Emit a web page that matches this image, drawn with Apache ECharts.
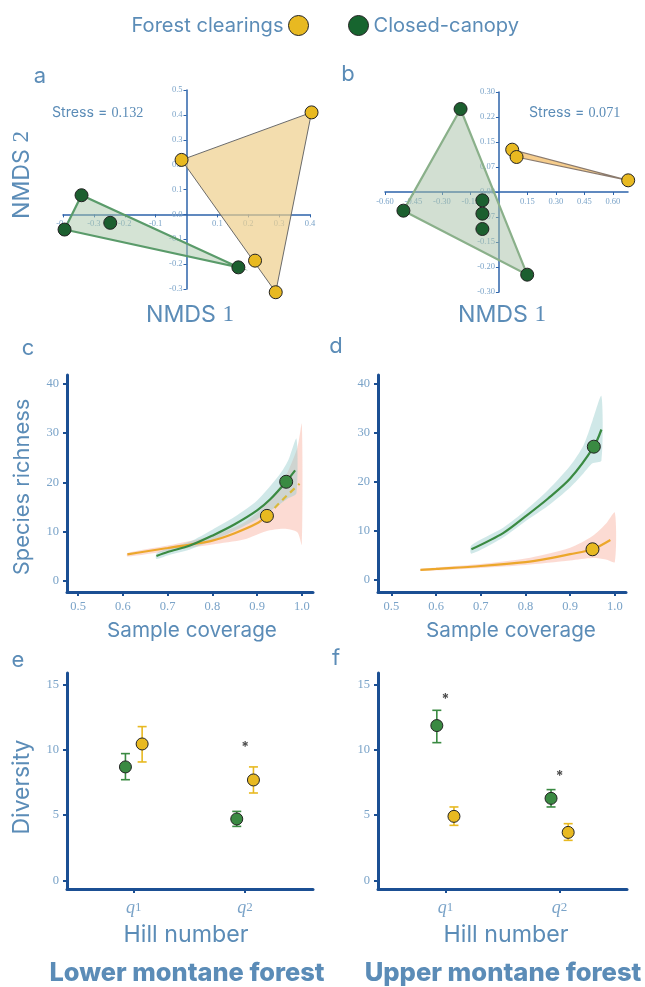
<!DOCTYPE html>
<html><head><meta charset="utf-8">
<script src="https://cdn.jsdelivr.net/npm/echarts@6/dist/echarts.min.js"></script>
<style>html,body{margin:0;padding:0;background:#fff}#c{width:645px;height:987px}</style>
</head><body><div id="c"></div>
<script>
// ---------------- DATA ----------------
// Panel a (NMDS, lower montane)
const aClearings = [[-0.016,0.219],[0.405,0.41],[0.222,-0.186],[0.289,-0.313]];
const aCanopy = [[-0.34,0.077],[-0.395,-0.061],[-0.247,-0.034],[0.168,-0.213]];
const aXTicks = [-0.4,-0.3,-0.2,-0.1,0.1,0.2,0.3,0.4];
const aYTicks = [-0.3,-0.2,-0.1,0,0.1,0.2,0.3,0.4,0.5];
const aStress = '0.132';
// Panel b (NMDS, upper montane)
const bClearings = [[0.070,0.127],[0.093,0.105],[0.681,0.035]];
const bCanopy = [[-0.202,0.249],[-0.503,-0.056],[-0.087,-0.025],[-0.087,-0.065],[-0.087,-0.111],[0.149,-0.248]];
const bXTicks = [-0.6,-0.45,-0.3,-0.15,0.15,0.3,0.45,0.6];
const bYTicks = [-0.3,-0.225,-0.15,-0.075,0,0.075,0.15,0.225,0.3];
const bYLabels = ['-0.30','-0.20','-0.15','-0.07','0.00','0.07','0.15','0.22','0.30'];
const bStress = '0.071';
// Panel c (coverage-based rarefaction, lower montane)
const cClearLine = [[0.61,5.4],[0.65,6.0],[0.7,6.7],[0.75,7.4],[0.8,8.2],[0.85,9.7],[0.9,11.7],[0.922,13.2]];
const cClearExtra = [[0.922,13.2],[0.95,15.8],[0.97,17.6],[0.995,19.7]];
const cClearBand = [[0.61,5.0,5.7],[0.7,6.1,7.2],[0.8,7.4,9.2],[0.87,8.4,11.8],[0.92,10.1,15.5],[0.96,10.6,20.5],[0.99,9.9,27.0],[1.0,7.4,31.8]];
const cClearPoint = [[0.922,13.2]];
const cCanopyLine = [[0.675,5.1],[0.7,5.9],[0.75,7.2],[0.8,9.2],[0.85,11.5],[0.9,14.3],[0.93,16.6],[0.965,20.1],[0.985,22.4]];
const cCanopyBand = [[0.675,4.5,5.6],[0.7,5.2,6.6],[0.75,6.4,8.0],[0.8,8.2,10.4],[0.85,10.2,13.0],[0.9,12.5,16.3],[0.95,15.5,21.5],[0.97,16.8,24.5],[0.988,17.8,28.8]];
const cCanopyPoint = [[0.965,20.1]];
// Panel d (coverage-based rarefaction, upper montane)
const dClearLine = [[0.565,2.1],[0.6,2.3],[0.7,2.9],[0.8,3.7],[0.85,4.4],[0.9,5.3],[0.95,6.3],[0.99,8.2]];
const dClearBand = [[0.565,1.9,2.3],[0.7,2.5,3.3],[0.8,3.1,4.4],[0.9,4.0,6.6],[0.95,4.5,9.0],[0.98,4.2,11.5],[1.0,3.7,13.8]];
const dClearPoint = [[0.95,6.3]];
const dCanopyLine = [[0.679,6.3],[0.75,9.6],[0.8,13.0],[0.85,16.6],[0.9,20.7],[0.953,27.2],[0.97,30.7]];
const dCanopyBand = [[0.679,5.4,7.1],[0.75,8.7,10.7],[0.8,12.0,14.2],[0.85,15.1,18.3],[0.9,18.9,23.3],[0.93,21.8,27.5],[0.95,23.8,32.5],[0.97,24.4,37.5]];
const dCanopyPoint = [[0.953,27.2]];
const covTicks = [0.5,0.6,0.7,0.8,0.9,1.0];
const richTicks = [0,10,20,30,40];
// Panels e/f (Hill numbers): [mean, lower, upper] per category
const hillCats = ['q1','q2'];
const eCanopy = [[8.7,7.72,9.72],[4.71,4.14,5.29]];
const eClear = [[10.46,9.08,11.79],[7.7,6.7,8.7]];
const eStars = [[2,10.15]];
const fCanopy = [[11.87,10.56,13.04],[6.29,5.63,6.96]];
const fClear = [[4.91,4.22,5.63],[3.68,3.07,4.35]];
const fStars = [[1,13.86],[2,7.98]];
const divTicks = [0,5,10,15];

// ---------------- STYLE ----------------
const SANS = 'Inter, Lato, "Noto Sans", sans-serif';
const SERIF = '"Liberation Serif", "DejaVu Serif", serif';
const TXT = '#5b8cb7', TICK = '#7aa3c8', AXIS = '#1b4f93', AXIS_T = '#2d63aa';
const YEL = '#e8b921', DKGRN = '#1c5f2f', GRN = '#3a8a42', ORG = '#eca72b';
const DODGE = 0.075;

const _ctx = document.createElement('canvas').getContext('2d');
function fit(text, target, weight){
  _ctx.font = (weight||'normal') + ' 100px ' + SANS;
  return Math.round(100*target/_ctx.measureText(text).width*10)/10;
}

function hull(pts){
  const p = pts.slice().sort((a,b)=>a[0]-b[0]||a[1]-b[1]);
  const cr=(o,a,b)=>(a[0]-o[0])*(b[1]-o[1])-(a[1]-o[1])*(b[0]-o[0]);
  const lo=[],up=[];
  for(const q of p){while(lo.length>=2&&cr(lo[lo.length-2],lo[lo.length-1],q)<=0)lo.pop();lo.push(q);}
  for(const q of p.slice().reverse()){while(up.length>=2&&cr(up[up.length-2],up[up.length-1],q)<=0)up.pop();up.push(q);}
  return lo.slice(0,-1).concat(up.slice(0,-1));
}
function polySeries(idx, pts, fill, stroke, lw, z){
  return {type:'custom', xAxisIndex:idx, yAxisIndex:idx, z:z||1, silent:true, clip:false, data:[pts[0]],
    renderItem:(params,api)=>({type:'polygon', shape:{points:pts.map(p=>api.coord(p))},
      style:{fill:fill, stroke:stroke, lineWidth:lw}})};
}
function bandSeries(idx, band, fill){
  const pts = band.map(b=>[b[0],b[2]]).concat(band.slice().reverse().map(b=>[b[0],b[1]]));
  return {type:'custom', xAxisIndex:idx, yAxisIndex:idx, z:1, silent:true, data:[pts[0]],
    renderItem:(params,api)=>({type:'polygon', shape:{points:pts.map(p=>api.coord(p)), smooth:0.25},
      style:{fill:fill}})};
}
function lineSeries(idx, data, color, dashed){
  return {type:'line', xAxisIndex:idx, yAxisIndex:idx, z:3, data:data, smooth:0.3, showSymbol:false, silent:true,
    lineStyle:{color:color, width:2.2, type: dashed?[6,5]:'solid'}};
}
function scatter(idx, data, color, size, name){
  const s = {type:'scatter', xAxisIndex:idx, yAxisIndex:idx, z:5, data:data, symbolSize:size, clip:false,
    itemStyle:{color:color, borderColor:'#222', borderWidth:1, opacity:1}};
  if(name) s.name = name;
  return s;
}
function errSeries(idx, vals, off, color){
  const data = vals.map((v,i)=>[i+1+off, v[1], v[2]]);
  return {type:'custom', xAxisIndex:idx, yAxisIndex:idx, z:4, silent:true, data:data,
    renderItem:(params,api)=>{
      const x=api.value(0), lo=api.value(1), hi=api.value(2);
      const a=api.coord([x,lo]), b=api.coord([x,hi]); const w=4.5;
      return {type:'group', children:[
        {type:'line', shape:{x1:a[0],y1:a[1],x2:b[0],y2:b[1]}, style:{stroke:color,lineWidth:1.6}},
        {type:'line', shape:{x1:a[0]-w,y1:a[1],x2:a[0]+w,y2:a[1]}, style:{stroke:color,lineWidth:1.6}},
        {type:'line', shape:{x1:b[0]-w,y1:b[1],x2:b[0]+w,y2:b[1]}, style:{stroke:color,lineWidth:1.6}}]};
    }};
}
function meanPts(vals, off){ return vals.map((v,i)=>[i+1+off, v[0]]); }
function starSeries(idx, data){
  return {type:'scatter', xAxisIndex:idx, yAxisIndex:idx, z:6, data:data, symbolSize:1, silent:true,
    itemStyle:{color:'rgba(0,0,0,0)'},
    label:{show:true, position:'inside', formatter:'*', color:'#222', fontSize:14, fontWeight:'bold', fontFamily:SANS}};
}

// ---------------- AXES ----------------
const grids = [
  {left:63, top:90, width:247, height:199},
  {left:385, top:92, width:243, height:200},
  {left:67, top:375, width:246, height:217},
  {left:378, top:375, width:248, height:217},
  {left:67, top:673, width:246, height:216},
  {left:378, top:673, width:249, height:216}
];
// axes crossing at zero: shift each axis from the grid edge to the other axis' zero
function thinAxis(idx, min, max, ticks, fmt, isX, other){
  const g = grids[idx];
  const span = isX ? g.height : g.width;
  const off = -span*(0-other[0])/(other[1]-other[0]);
  return {gridIndex:idx, type:'value', min:min, max:max, offset:off,
    axisLine:{show:true, onZero:false, lineStyle:{color:AXIS_T, width:1.5}},
    axisTick:{show:true, customValues:ticks, length:3, lineStyle:{color:AXIS_T, width:1}},
    axisLabel:{customValues:ticks, formatter:fmt, fontSize:8.5, color:TICK, fontFamily:SERIF, margin:isX?5:4},
    splitLine:{show:false}};
}
function thickAxis(idx, min, max, ticks, fmt, extra){
  return {gridIndex:idx, type:'value', min:min, max:max,
    axisLine:{show:true, onZero:false, lineStyle:{color:AXIS, width:3}},
    axisTick:{show:true, customValues:ticks, length:4, lineStyle:{color:AXIS, width:2}},
    axisLabel:Object.assign({customValues:ticks, formatter:fmt, fontSize:12.5, color:TICK, fontFamily:SERIF, margin:8}, extra||{}),
    splitLine:{show:false}};
}
const f1 = v=>v.toFixed(1), f2=v=>v.toFixed(2), f0=v=>String(Math.round(v));
const bYfmt = v=>{ for(let i=0;i<bYTicks.length;i++) if(Math.abs(bYTicks[i]-v)<1e-6) return bYLabels[i]; return ''; };
const hillFmt = v=>{ const c = hillCats[Math.round(v)-1]||''; return '{q|'+c.charAt(0)+'}{n|'+c.slice(1)+'}'; };
const hillRich = {q:{fontFamily:SERIF, fontStyle:'italic', fontSize:18, color:TICK}, n:{fontFamily:SERIF, fontSize:13, color:TICK}};

const aX=[-0.4,0.4], aY=[-0.3,0.5], bX=[-0.6,0.68], bY=[-0.3,0.3];
const xAxes = [
  thinAxis(0,aX[0],aX[1],aXTicks,f1,true,aY),
  thinAxis(1,bX[0],bX[1],bXTicks,f2,true,bY),
  thickAxis(2,0.475,1.025,covTicks,f1),
  thickAxis(3,0.47,1.025,covTicks,f1),
  thickAxis(4,0.4,2.61,[1,2],hillFmt,{rich:hillRich, margin:10}),
  thickAxis(5,0.41,2.59,[1,2],hillFmt,{rich:hillRich, margin:10})
];
const yAxes = [
  thinAxis(0,aY[0],aY[1],aYTicks,f1,false,aX),
  thinAxis(1,bY[0],bY[1],bYTicks,bYfmt,false,bX),
  thickAxis(2,-2.2,41.7,richTicks,f0),
  thickAxis(3,-2.4,41.8,richTicks,f0),
  thickAxis(4,-0.66,15.9,divTicks,f0),
  thickAxis(5,-0.66,15.9,divTicks,f0)
];

// ---------------- SERIES ----------------
const series = [
  polySeries(0, hull(aClearings), 'rgba(238,206,140,0.7)', '#6b6b6b', 1, 1),
  polySeries(0, hull(aCanopy), 'rgba(170,200,170,0.5)', '#5a9b6a', 2.2, 2),
  scatter(0, aClearings, YEL, 13, 'Forest clearings'),
  scatter(0, aCanopy, DKGRN, 13, 'Closed-canopy'),
  polySeries(1, hull(bCanopy), 'rgba(165,192,165,0.5)', '#8ab08a', 2.2, 1),
  polySeries(1, hull(bClearings), 'rgba(244,196,120,0.85)', '#8a7a6e', 1.2, 2),
  scatter(1, bClearings, YEL, 13),
  scatter(1, bCanopy, DKGRN, 13),
  bandSeries(2, cClearBand, 'rgba(248,170,150,0.42)'),
  bandSeries(2, cCanopyBand, 'rgba(150,205,205,0.45)'),
  lineSeries(2, cClearLine, ORG, false),
  lineSeries(2, cClearExtra, '#d9b83a', true),
  lineSeries(2, cCanopyLine, GRN, false),
  scatter(2, cClearPoint, YEL, 13),
  scatter(2, cCanopyPoint, GRN, 13),
  bandSeries(3, dClearBand, 'rgba(248,170,150,0.42)'),
  bandSeries(3, dCanopyBand, 'rgba(150,205,205,0.45)'),
  lineSeries(3, dClearLine, ORG, false),
  lineSeries(3, dCanopyLine, GRN, false),
  scatter(3, dClearPoint, YEL, 13),
  scatter(3, dCanopyPoint, GRN, 13),
  errSeries(4, eCanopy, -DODGE, GRN),
  errSeries(4, eClear, DODGE, YEL),
  scatter(4, meanPts(eCanopy,-DODGE), GRN, 12),
  scatter(4, meanPts(eClear,DODGE), YEL, 12),
  starSeries(4, eStars),
  errSeries(5, fCanopy, -DODGE, GRN),
  errSeries(5, fClear, DODGE, YEL),
  scatter(5, meanPts(fCanopy,-DODGE), GRN, 12),
  scatter(5, meanPts(fClear,DODGE), YEL, 12),
  starSeries(5, fStars)
];

// ---------------- TEXT ----------------
function txt(x,y,text,size,opts){
  const o = opts||{};
  const el = {type:'text', x:x, y:y, silent:true,
    style:Object.assign({text:text, fontSize:size, fill:TXT, fontFamily:SANS, align:'center', verticalAlign:'middle'}, o.style||{})};
  if(o.rotation!==undefined) el.rotation = o.rotation;
  return el;
}
function mixed(x,y,s,n,size,align,rot){
  const el = {type:'text', x:x, y:y, silent:true, style:{text:'{s|'+s+'}{n|'+n+'}', align:align, verticalAlign:'middle',
    rich:{s:{fontSize:size, fill:TXT, fontFamily:SANS}, n:{fontSize:size, fill:TXT, fontFamily:SERIF}}}};
  if(rot!==undefined) el.rotation = rot;
  return el;
}
const R = Math.PI/2;
const nmdsSize = fit('NMDS 1', 86);
const stressSize = fit('Stress = 0.132', 94);
const boldW = '800';
const graphics = [
  txt(40,76,'a',22), txt(348,74,'b',22), txt(28,348,'c',22), txt(336,346,'d',22), txt(18,660,'e',22), txt(336,658,'f',22),
  mixed(52,113,'Stress = ',aStress,stressSize,'left'),
  mixed(529,113,'Stress = ',bStress,stressSize,'left'),
  mixed(22,175,'NMDS ','2',nmdsSize,'center',R),
  mixed(190,315,'NMDS ','1',nmdsSize,'center'),
  mixed(502,315,'NMDS ','1',nmdsSize,'center'),
  txt(22,487,'Species richness',fit('Species richness',177),{rotation:R}),
  txt(192,631,'Sample coverage',fit('Sample coverage',170)), txt(511,631,'Sample coverage',fit('Sample coverage',170)),
  txt(22,787,'Diversity',fit('Diversity',95),{rotation:R}),
  txt(186,935,'Hill number',fit('Hill number',125)), txt(506,935,'Hill number',fit('Hill number',125)),
  txt(187,973,'Lower montane forest',fit('Lower montane forest',275,boldW),{style:{fontWeight:boldW}}),
  txt(503,973,'Upper montane forest',fit('Upper montane forest',277,boldW),{style:{fontWeight:boldW}})
];

const legSize = fit('Forest clearings',152);
const chart = echarts.init(document.getElementById('c'), null, {renderer:'canvas'});
chart.setOption({
  animation:false,
  backgroundColor:'#fff',
  legend:[
    {data:[{name:'Forest clearings', itemStyle:{color:YEL, borderColor:'#222', borderWidth:1}}], right:331, top:10, align:'right',
      icon:'circle', itemWidth:20, itemHeight:20, selectedMode:false, textStyle:{fontSize:legSize, color:TXT, fontFamily:SANS}},
    {data:[{name:'Closed-canopy', itemStyle:{color:'#17652f', borderColor:'#222', borderWidth:1}}], left:343, top:10, align:'left',
      icon:'circle', itemWidth:20, itemHeight:20, selectedMode:false, textStyle:{fontSize:legSize, color:TXT, fontFamily:SANS}}
  ],
  grid:grids, xAxis:xAxes, yAxis:yAxes, series:series, graphic:graphics
});
</script></body></html>
